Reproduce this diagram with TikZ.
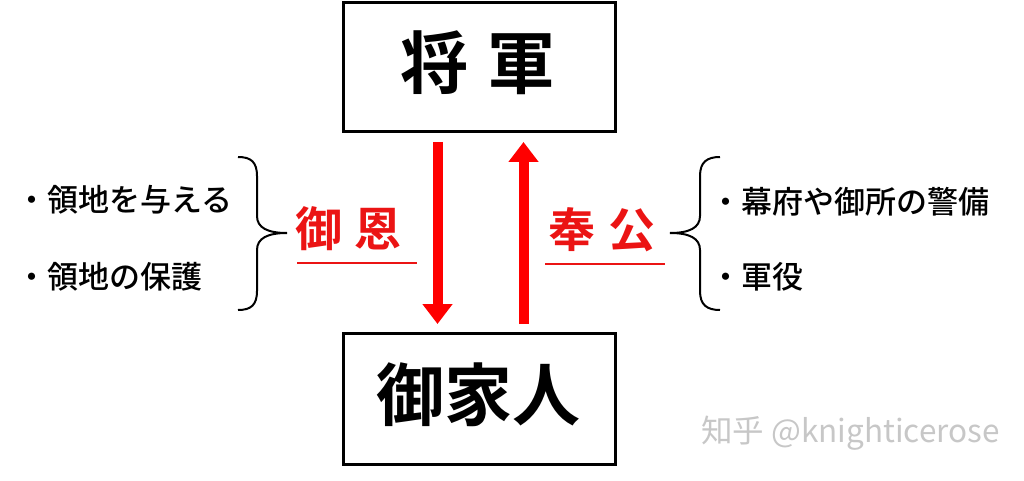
\documentclass[tikz,border=0pt]{standalone}
\usepackage{fontspec}
\setmainfont{Noto Sans CJK JP}
\newfontfamily\zh{Noto Sans CJK SC}
\newfontfamily\jpmed{Noto Sans CJK JP Medium}
\newfontfamily\jpbold{Noto Sans CJK JP Bold}
\usetikzlibrary{arrows.meta}
\definecolor{myred}{RGB}{235,20,20}
\definecolor{arrred}{RGB}{255,0,0}
\tikzset{
  box/.style={draw=black, line width=3pt, minimum width=272pt, inner sep=0pt},
  title/.style={font=\jpbold\fontsize{68}{68}\selectfont, inner sep=0pt},
  redlabel/.style={text=myred, font=\jpbold\fontsize{47}{47}\selectfont, inner sep=0pt},
  item/.style={font=\jpmed\fontsize{31}{31}\selectfont, inner sep=0pt, anchor=west},
  arr/.style={arrred, line width=10pt, -{Triangle[width=29pt,length=20pt]}},
  uline/.style={myred, line width=2.5pt},
  bracket/.style={black, line width=2pt},
}
\begin{document}
\begin{tikzpicture}[x=1pt,y=-1pt]
\useasboundingbox (0,0) rectangle (1024,481);
% boxes
\node[box, minimum height=129pt] (shogun) at (479,67.5) {};
\node[box, minimum height=131pt] (gokenin) at (479.5,398.5) {};
\node[title] (shoguntxt) at (478,63) {将\hspace{19pt}軍};
\node[title] (gokenintxt) at (478,395) {御家人};
% arrows
\coordinate (d1) at (437.5,142);
\coordinate (d2) at (437.5,324);
\coordinate (u1) at (523.5,324);
\coordinate (u2) at (523.5,142);
\draw[arr] (d1) -- (d2);
\draw[arr] (u1) -- (u2);
% red labels
\node[redlabel] (goon) at (348.5,229) {御\hspace{12pt}恩};
\node[redlabel] (hoko) at (602,230) {奉\hspace{14pt}公};
\coordinate (goonL) at (297,263);
\coordinate (goonR) at (417,263);
\coordinate (hokoL) at (545,264);
\coordinate (hokoR) at (665,264);
\draw[uline] (goonL) -- (goonR);
\draw[uline] (hokoL) -- (hokoR);
% braces
\draw[bracket] (238,157) .. controls (251,157) and (257,162) .. (257,176) -- (257,216)
  .. controls (257,228) and (268,233) .. (287,233)
  .. controls (268,233) and (257,238) .. (257,250) -- (257,291)
  .. controls (257,305) and (251,310) .. (238,310);
\draw[bracket] (720,157) .. controls (707,157) and (700,162) .. (700,176) -- (700,216)
  .. controls (700,228) and (689,233) .. (670,233)
  .. controls (689,233) and (700,238) .. (700,250) -- (700,291)
  .. controls (700,305) and (707,310) .. (720,310);
% items
\node[item] (l1) at (16,200) {・領地を与える};
\node[item] (l2) at (16,277) {・領地の保護};
\node[item] (r1) at (710,202) {・幕府や御所の警備};
\node[item] (r2) at (710,277) {・軍役};
% watermark
\node[inner sep=0pt, anchor=west, text=black!22, font=\zh\fontsize{31.5}{31.5}\selectfont] (wm) at (701,433) {知乎 @knighticerose};
\end{tikzpicture}
\end{document}
